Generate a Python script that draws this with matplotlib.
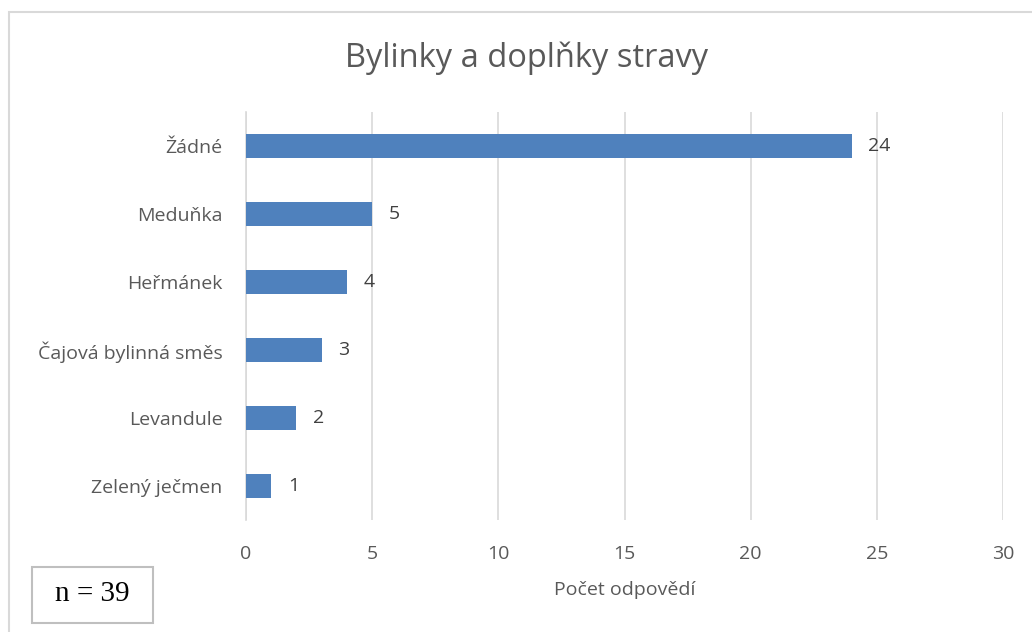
import matplotlib.pyplot as plt
from matplotlib.patches import Rectangle

categories = ["Zelený ječmen", "Levandule", "Čajová bylinná směs", "Heřmánek", "Meduňka", "Žádné"]
counts = [1, 2, 3, 4, 5, 24]
x_ticks = [0, 5, 10, 15, 20, 25, 30]

plt.rcParams['font.family'] = ['Open Sans', 'DejaVu Sans']

fig = plt.figure(figsize=(10.32, 6.32), dpi=100)
W, H = 1032, 632

# outer chart frame (only top and left edges fall inside the image)
fig.patches.append(Rectangle((9 / W, -0.1), 1.2, (H - 12) / H + 0.1, transform=fig.transFigure,
                             fill=False, edgecolor='#d9d9d9', linewidth=1.5))

ax = fig.add_axes([246 / W, 1 - 520 / H, (1003 - 246) / W, (520 - 112) / H])
y = range(len(categories))
ax.barh(y, counts, height=0.36, color='#4f81bd', zorder=3)

for i, v in enumerate(counts):
    ax.annotate(str(v), (v, i), xytext=(12, 0), textcoords='offset points',
                va='center', ha='left', fontsize=14, color='#404040')

ax.set_xlim(0, 30)
ax.set_ylim(-0.5, len(categories) - 0.5)
ax.set_xticks(x_ticks)
ax.set_yticks(list(y))
ax.set_yticklabels(categories)
ax.xaxis.grid(True, color='#d9d9d9', linewidth=1.2, zorder=0)
for s in ['top', 'right', 'bottom']:
    ax.spines[s].set_visible(False)
ax.spines['left'].set_color('#d9d9d9')
ax.spines['left'].set_linewidth(1.2)
ax.tick_params(axis='both', length=0, labelsize=14, labelcolor='#595959')
ax.tick_params(axis='x', pad=18)
ax.tick_params(axis='y', pad=17)
ax.set_xlabel("Počet odpovědí", fontsize=14, color='#595959', labelpad=13)

fig.text(527 / W, 1 - 58 / H, "Bylinky a doplňky stravy", ha='center', va='center',
         fontsize=23.5, color='#595959')

# sample size box
fig.patches.append(Rectangle((32 / W, 1 - 623 / H), 121 / W, 56 / H, transform=fig.transFigure,
                             facecolor='white', edgecolor='#bfbfbf', linewidth=1.5))
fig.text(92 / W, 1 - 594 / H, "n = 39", ha='center', va='center', fontsize=21,
         family='Liberation Serif', color='black')

fig.savefig('out.png', dpi=100)
